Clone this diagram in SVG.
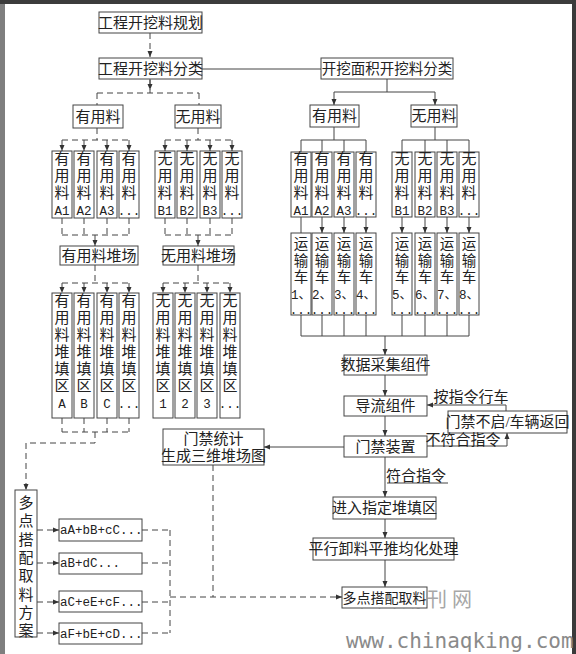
<svg xmlns="http://www.w3.org/2000/svg" width="576" height="654" viewBox="0 0 576 654">
<defs>
<marker id="a" viewBox="0 0 6 6" refX="6" refY="3" markerWidth="6" markerHeight="6" markerUnits="userSpaceOnUse" orient="auto"><path d="M0,0.5 L6,3 L0,5.5 z" fill="#333"/></marker>
<style>
rect.b{fill:#fff;stroke:#444;stroke-width:1}
text{font-family:"Liberation Serif","Noto Sans CJK SC",sans-serif;fill:#222}
.c{font-size:15px;text-anchor:middle}
.v{font-size:15px;text-anchor:middle}
.tv{font-size:14.5px;text-anchor:middle}
.m{font-family:"Liberation Mono","Noto Sans CJK SC",monospace;font-size:12.5px}
.s{fill:none;stroke:#444;stroke-width:1}
.d{fill:none;stroke:#444;stroke-width:1;stroke-dasharray:6 4}
.ar{marker-end:url(#a)}
.wm{fill:#8a8a8a}
</style>
</defs>
<rect x="0" y="0" width="576" height="654" fill="#7f7f7f"/>
<rect x="0" y="0" width="576" height="4" fill="#3c3c3c"/>
<rect x="572" y="0" width="4" height="654" fill="#3a3a3a"/>
<rect x="5" y="4" width="567" height="650" fill="#fff"/>

<g id="connectors">
<path class="d ar" d="M150,33 V57"/>
<path class="d" d="M150,79 V93 M97,93 H199 M97,93 V105 M199,93 V105"/>
<path class="d ar" d="M150,80 V90"/>
<path class="s" d="M202,69 H321"/>
<path class="d" d="M97,128 V140 M62,140 H129"/>
<path class="d ar" d="M62,140 V151"/><path class="d ar" d="M84,140 V151"/><path class="d ar" d="M107,140 V151"/><path class="d ar" d="M129,140 V151"/>
<path class="d" d="M198,128 V140 M165,140 H232"/>
<path class="d ar" d="M165,140 V151"/><path class="d ar" d="M187,140 V151"/><path class="d ar" d="M210,140 V151"/><path class="d ar" d="M232,140 V151"/>
<path class="d" d="M62,218 V235 M84,218 V235 M107,218 V235 M129,218 V235 M62,235 H129"/>
<path class="d ar" d="M95,235 V246"/>
<path class="d" d="M165,218 V235 M187,218 V235 M210,218 V235 M232,218 V235 M165,235 H232"/>
<path class="d ar" d="M198,235 V246"/>
<path class="d" d="M95,265 V283 M62,283 H129"/>
<path class="d ar" d="M62,283 V293"/><path class="d ar" d="M84,283 V293"/><path class="d ar" d="M107,283 V293"/><path class="d ar" d="M129,283 V293"/>
<path class="d" d="M198,265 V283 M163,283 H230"/>
<path class="d ar" d="M163,283 V293"/><path class="d ar" d="M185,283 V293"/><path class="d ar" d="M207,283 V293"/><path class="d ar" d="M230,283 V293"/>
<path class="d" d="M62,418 V432 M84,418 V432 M107,418 V432 M129,418 V432 M62,432 H129 M95,432 V443 H26"/>
<path class="d ar" d="M26,443 V490"/>
<path class="s" d="M387,79 V92 M334,92 H435"/>
<path class="s ar" d="M334,92 V105"/><path class="s ar" d="M435,92 V105"/>
<path class="s" d="M334,127 V140 M301,140 H366 M301,140 V152 M322,140 V152 M344,140 V152 M366,140 V152"/>
<path class="s" d="M435,127 V140 M402,140 H469 M402,140 V152 M425,140 V152 M447,140 V152 M469,140 V152"/>
<path class="s" d="M301,217 V233"/>
<path class="s ar" d="M322,217 V233"/><path class="s ar" d="M344,217 V233"/><path class="s ar" d="M366,217 V233"/>
<path class="s ar" d="M402,217 V233"/><path class="s ar" d="M425,217 V233"/><path class="s ar" d="M447,217 V233"/><path class="s ar" d="M469,217 V233"/>
<path class="s" d="M301,315 V336 M322,315 V336 M344,315 V336 M366,315 V336 M402,315 V336 M425,315 V336 M447,315 V336 M469,315 V336 M301,336 H469"/>
<path class="s ar" d="M385,336 V355"/>
<path class="s ar" d="M385,375 V396"/>
<path class="s ar" d="M385,416 V436"/>
<path class="s ar" d="M506,411 V405 H427"/>
<path class="s ar" d="M427,446 H507 V433"/>
<path class="s ar" d="M344,447 H264"/>
<path class="s ar" d="M385,457 V497"/>
<path class="s" d="M387,483 H448"/>
<path class="s ar" d="M385,519 V538"/>
<path class="s ar" d="M385,560 V587"/>
<path class="d ar" d="M37,530 H59"/><path class="d ar" d="M37,563 H59"/><path class="d ar" d="M37,602 H59"/><path class="d ar" d="M37,633 H59"/>
<path class="d" d="M142,530 H170 M142,563 H170 M142,602 H170 M142,633 H170 M170,530 V633"/>
<path class="d" d="M213,465 V597"/>
<path class="d ar" d="M170,597 H342"/>
</g>

<g id="n1"><rect class="b" x="99" y="12" width="103" height="21"/><text class="c" x="150.5" y="28">工程开挖料规划</text></g>
<g id="n2"><rect class="b" x="99" y="58" width="103" height="21"/><text class="c" x="150.5" y="74">工程开挖料分类</text></g>
<g id="n3"><rect class="b" x="321" y="58" width="132" height="21"/><text class="c" x="387" y="74" style="font-size:14.5px">开挖面积开挖料分类</text></g>
<g id="n4"><rect class="b" x="73" y="105" width="50" height="23"/><text class="c" x="98" y="122">有用料</text></g>
<g id="n5"><rect class="b" x="175" y="105" width="46" height="23"/><text class="c" x="198" y="122">无用料</text></g>
<g id="n6"><rect class="b" x="310" y="105" width="49" height="22"/><text class="c" x="334.5" y="121">有用料</text></g>
<g id="n7"><rect class="b" x="411" y="105" width="46" height="22"/><text class="c" x="434" y="121">无用料</text></g>

<g id="la1"><rect class="b" x="52" y="151" width="20" height="67"/><text class="v" x="62" y="164">有<tspan x="62" dy="17">用</tspan><tspan x="62" dy="17">料</tspan><tspan class="m" x="62" dy="17">A1</tspan></text></g>
<g id="la2"><rect class="b" x="74" y="151" width="20" height="67"/><text class="v" x="84" y="164">有<tspan x="84" dy="17">用</tspan><tspan x="84" dy="17">料</tspan><tspan class="m" x="84" dy="17">A2</tspan></text></g>
<g id="la3"><rect class="b" x="97" y="151" width="20" height="67"/><text class="v" x="107" y="164">有<tspan x="107" dy="17">用</tspan><tspan x="107" dy="17">料</tspan><tspan class="m" x="107" dy="17">A3</tspan></text></g>
<g id="la4"><rect class="b" x="119" y="151" width="20" height="67"/><text class="v" x="129" y="164">有<tspan x="129" dy="17">用</tspan><tspan x="129" dy="17">料</tspan><tspan class="m" x="129" dy="17">...</tspan></text></g>
<g id="lb1"><rect class="b" x="155" y="151" width="20" height="67"/><text class="v" x="165" y="164">无<tspan x="165" dy="17">用</tspan><tspan x="165" dy="17">料</tspan><tspan class="m" x="165" dy="17">B1</tspan></text></g>
<g id="lb2"><rect class="b" x="177" y="151" width="20" height="67"/><text class="v" x="187" y="164">无<tspan x="187" dy="17">用</tspan><tspan x="187" dy="17">料</tspan><tspan class="m" x="187" dy="17">B2</tspan></text></g>
<g id="lb3"><rect class="b" x="200" y="151" width="20" height="67"/><text class="v" x="210" y="164">无<tspan x="210" dy="17">用</tspan><tspan x="210" dy="17">料</tspan><tspan class="m" x="210" dy="17">B3</tspan></text></g>
<g id="lb4"><rect class="b" x="222" y="151" width="20" height="67"/><text class="v" x="232" y="164">无<tspan x="232" dy="17">用</tspan><tspan x="232" dy="17">料</tspan><tspan class="m" x="232" dy="17">...</tspan></text></g>

<g id="n8"><rect class="b" x="60" y="246" width="78" height="19"/><text class="c" x="99" y="261">有用料堆场</text></g>
<g id="n9"><rect class="b" x="163" y="246" width="71" height="19"/><text class="c" x="198.5" y="261">无用料堆场</text></g>

<g id="za"><rect class="b" x="52" y="293" width="20" height="125"/><text class="v" x="62" y="306">有<tspan x="62" dy="17">用</tspan><tspan x="62" dy="17">料</tspan><tspan x="62" dy="17">堆</tspan><tspan x="62" dy="17">填</tspan><tspan x="62" dy="17">区</tspan><tspan class="m" x="62" dy="17">A</tspan></text></g>
<g id="zb"><rect class="b" x="74" y="293" width="20" height="125"/><text class="v" x="84" y="306">有<tspan x="84" dy="17">用</tspan><tspan x="84" dy="17">料</tspan><tspan x="84" dy="17">堆</tspan><tspan x="84" dy="17">填</tspan><tspan x="84" dy="17">区</tspan><tspan class="m" x="84" dy="17">B</tspan></text></g>
<g id="zc"><rect class="b" x="97" y="293" width="20" height="125"/><text class="v" x="107" y="306">有<tspan x="107" dy="17">用</tspan><tspan x="107" dy="17">料</tspan><tspan x="107" dy="17">堆</tspan><tspan x="107" dy="17">填</tspan><tspan x="107" dy="17">区</tspan><tspan class="m" x="107" dy="17">C</tspan></text></g>
<g id="zd"><rect class="b" x="119" y="293" width="20" height="125"/><text class="v" x="129" y="306">有<tspan x="129" dy="17">用</tspan><tspan x="129" dy="17">料</tspan><tspan x="129" dy="17">堆</tspan><tspan x="129" dy="17">填</tspan><tspan x="129" dy="17">区</tspan><tspan class="m" x="129" dy="17">...</tspan></text></g>
<g id="z1"><rect class="b" x="153" y="293" width="20" height="125"/><text class="v" x="163" y="306">无<tspan x="163" dy="17">用</tspan><tspan x="163" dy="17">料</tspan><tspan x="163" dy="17">堆</tspan><tspan x="163" dy="17">填</tspan><tspan x="163" dy="17">区</tspan><tspan class="m" x="163" dy="17">1</tspan></text></g>
<g id="z2"><rect class="b" x="175" y="293" width="20" height="125"/><text class="v" x="185" y="306">无<tspan x="185" dy="17">用</tspan><tspan x="185" dy="17">料</tspan><tspan x="185" dy="17">堆</tspan><tspan x="185" dy="17">填</tspan><tspan x="185" dy="17">区</tspan><tspan class="m" x="185" dy="17">2</tspan></text></g>
<g id="z3"><rect class="b" x="197" y="293" width="20" height="125"/><text class="v" x="207" y="306">无<tspan x="207" dy="17">用</tspan><tspan x="207" dy="17">料</tspan><tspan x="207" dy="17">堆</tspan><tspan x="207" dy="17">填</tspan><tspan x="207" dy="17">区</tspan><tspan class="m" x="207" dy="17">3</tspan></text></g>
<g id="z4"><rect class="b" x="220" y="293" width="20" height="125"/><text class="v" x="230" y="306">无<tspan x="230" dy="17">用</tspan><tspan x="230" dy="17">料</tspan><tspan x="230" dy="17">堆</tspan><tspan x="230" dy="17">填</tspan><tspan x="230" dy="17">区</tspan><tspan class="m" x="230" dy="17">...</tspan></text></g>

<g id="ra1"><rect class="b" x="291" y="152" width="20" height="65"/><text class="v" x="301" y="164">有<tspan x="301" dy="17">用</tspan><tspan x="301" dy="17">料</tspan><tspan class="m" x="301" dy="17">A1</tspan></text></g>
<g id="ra2"><rect class="b" x="312" y="152" width="20" height="65"/><text class="v" x="322" y="164">有<tspan x="322" dy="17">用</tspan><tspan x="322" dy="17">料</tspan><tspan class="m" x="322" dy="17">A2</tspan></text></g>
<g id="ra3"><rect class="b" x="334" y="152" width="20" height="65"/><text class="v" x="344" y="164">有<tspan x="344" dy="17">用</tspan><tspan x="344" dy="17">料</tspan><tspan class="m" x="344" dy="17">A3</tspan></text></g>
<g id="ra4"><rect class="b" x="356" y="152" width="20" height="65"/><text class="v" x="366" y="164">有<tspan x="366" dy="17">用</tspan><tspan x="366" dy="17">料</tspan><tspan class="m" x="366" dy="17">...</tspan></text></g>
<g id="rb1"><rect class="b" x="392" y="152" width="20" height="65"/><text class="v" x="402" y="164">无<tspan x="402" dy="17">用</tspan><tspan x="402" dy="17">料</tspan><tspan class="m" x="402" dy="17">B1</tspan></text></g>
<g id="rb2"><rect class="b" x="415" y="152" width="20" height="65"/><text class="v" x="425" y="164">无<tspan x="425" dy="17">用</tspan><tspan x="425" dy="17">料</tspan><tspan class="m" x="425" dy="17">B2</tspan></text></g>
<g id="rb3"><rect class="b" x="437" y="152" width="20" height="65"/><text class="v" x="447" y="164">无<tspan x="447" dy="17">用</tspan><tspan x="447" dy="17">料</tspan><tspan class="m" x="447" dy="17">B3</tspan></text></g>
<g id="rb4"><rect class="b" x="459" y="152" width="20" height="65"/><text class="v" x="469" y="164">无<tspan x="469" dy="17">用</tspan><tspan x="469" dy="17">料</tspan><tspan class="m" x="469" dy="17">...</tspan></text></g>

<g id="t1"><rect class="b" x="291" y="233" width="20" height="82"/><text class="tv" x="301" y="249">运<tspan x="301" dy="16.5">输</tspan><tspan x="301" dy="16.5">车</tspan><tspan class="m" x="301" dy="16.5">1、</tspan><tspan class="m" x="301" dy="15">...</tspan></text></g>
<g id="t2"><rect class="b" x="312" y="233" width="20" height="82"/><text class="tv" x="322" y="249">运<tspan x="322" dy="16.5">输</tspan><tspan x="322" dy="16.5">车</tspan><tspan class="m" x="322" dy="16.5">2、</tspan><tspan class="m" x="322" dy="15">...</tspan></text></g>
<g id="t3"><rect class="b" x="334" y="233" width="20" height="82"/><text class="tv" x="344" y="249">运<tspan x="344" dy="16.5">输</tspan><tspan x="344" dy="16.5">车</tspan><tspan class="m" x="344" dy="16.5">3、</tspan><tspan class="m" x="344" dy="15">...</tspan></text></g>
<g id="t4"><rect class="b" x="356" y="233" width="20" height="82"/><text class="tv" x="366" y="249">运<tspan x="366" dy="16.5">输</tspan><tspan x="366" dy="16.5">车</tspan><tspan class="m" x="366" dy="16.5">4、</tspan><tspan class="m" x="366" dy="15">...</tspan></text></g>
<g id="t5"><rect class="b" x="392" y="233" width="20" height="82"/><text class="tv" x="402" y="249">运<tspan x="402" dy="16.5">输</tspan><tspan x="402" dy="16.5">车</tspan><tspan class="m" x="402" dy="16.5">5、</tspan><tspan class="m" x="402" dy="15">...</tspan></text></g>
<g id="t6"><rect class="b" x="415" y="233" width="20" height="82"/><text class="tv" x="425" y="249">运<tspan x="425" dy="16.5">输</tspan><tspan x="425" dy="16.5">车</tspan><tspan class="m" x="425" dy="16.5">6、</tspan><tspan class="m" x="425" dy="15">...</tspan></text></g>
<g id="t7"><rect class="b" x="437" y="233" width="20" height="82"/><text class="tv" x="447" y="249">运<tspan x="447" dy="16.5">输</tspan><tspan x="447" dy="16.5">车</tspan><tspan class="m" x="447" dy="16.5">7、</tspan><tspan class="m" x="447" dy="15">...</tspan></text></g>
<g id="t8"><rect class="b" x="459" y="233" width="20" height="82"/><text class="tv" x="469" y="249">运<tspan x="469" dy="16.5">输</tspan><tspan x="469" dy="16.5">车</tspan><tspan class="m" x="469" dy="16.5">8、</tspan><tspan class="m" x="469" dy="15">...</tspan></text></g>

<g id="n10"><rect class="b" x="344" y="355" width="83" height="20"/><text class="c" x="385.5" y="370">数据采集组件</text></g>
<g id="n11"><rect class="b" x="344" y="396" width="83" height="20"/><text class="c" x="385.5" y="411">导流组件</text></g>
<g id="n12"><rect class="b" x="344" y="436" width="83" height="21"/><text class="c" x="385.5" y="452">门禁装置</text></g>
<g id="n13"><rect class="b" x="448" y="411" width="119" height="22"/><text class="c" x="507.5" y="426.5">门禁不启/车辆返回</text></g>
<g id="l1"><text class="c" x="471" y="402">按指令行车</text></g>
<g id="l2"><text class="c" x="463" y="444.5">不符合指令</text></g>
<g id="l3"><text class="c" x="416" y="481">符合指令</text></g>
<g id="n14"><rect class="b" x="163" y="429" width="101" height="36"/><text class="c" x="213.5" y="444">门禁统计<tspan x="213.5" dy="17">生成三维堆场图</tspan></text></g>
<g id="n15"><rect class="b" x="333" y="497" width="103" height="22"/><text class="c" x="384.5" y="513">进入指定堆填区</text></g>
<g id="n16"><rect class="b" x="313" y="538" width="141" height="22"/><text class="c" x="383.5" y="554">平行卸料平推均化处理</text></g>
<text class="wm" x="352" y="607" style="font-size:20px;letter-spacing:5px;opacity:0.75">中国期刊网</text>
<g id="n17"><rect class="b" x="342" y="587" width="85" height="21"/><text class="c" x="384.5" y="603" style="font-size:14px">多点搭配取料</text></g>

<g id="n18"><rect class="b" x="15" y="490" width="22" height="147"/><text class="v" x="26" y="508">多<tspan x="26" dy="18.3">点</tspan><tspan x="26" dy="18.3">搭</tspan><tspan x="26" dy="18.3">配</tspan><tspan x="26" dy="18.3">取</tspan><tspan x="26" dy="18.3">料</tspan><tspan x="26" dy="18.3">方</tspan><tspan x="26" dy="18.3">案</tspan></text></g>
<g id="f1"><rect class="b" x="59" y="519" width="83" height="22"/><text class="m" x="60" y="534">aA+bB+cC...</text></g>
<g id="f2"><rect class="b" x="59" y="553" width="83" height="21"/><text class="m" x="60" y="567">aB+dC...</text></g>
<g id="f3"><rect class="b" x="59" y="591" width="83" height="21"/><text class="m" x="60" y="606">aC+eE+cF...</text></g>
<g id="f4"><rect class="b" x="59" y="623" width="83" height="21"/><text class="m" x="60" y="638">aF+bE+cD...</text></g>

<text class="wm" x="346" y="648" style="font-family:'DejaVu Sans Mono',monospace;font-size:21px">www.chinaqking.com</text>
</svg>
